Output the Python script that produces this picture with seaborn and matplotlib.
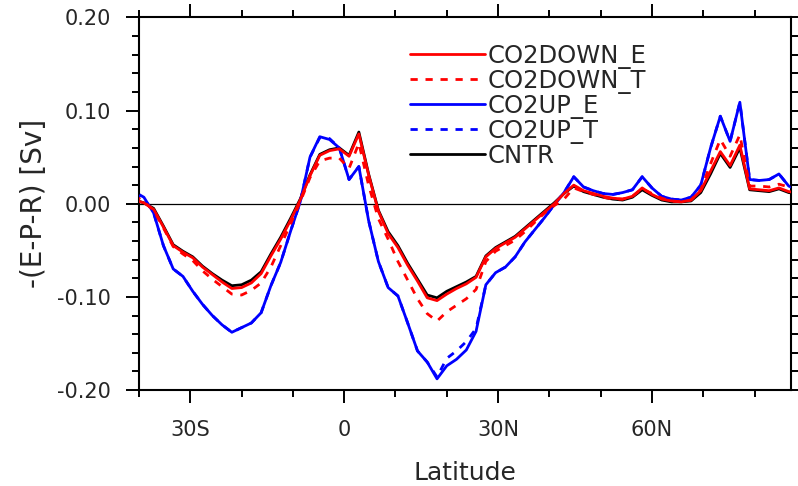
import matplotlib
matplotlib.use('Agg')
import pandas as pd
import matplotlib.pyplot as plt
import seaborn as sns
from matplotlib.ticker import MultipleLocator

# Latitude grid (Gaussian-like, ~1.9 deg)
lat = [-40.95, -39.05, -37.14, -35.24, -33.33, -31.43, -29.52, -27.62, -25.71, -23.81,
       -21.90, -20.00, -18.10, -16.19, -14.29, -12.38, -10.48, -8.57, -6.67, -4.76,
       -2.86, -0.95, 0.95, 2.86, 4.76, 6.67, 8.57, 10.48, 12.38, 14.29,
       16.19, 18.10, 20.00, 21.90, 23.81, 25.71, 27.62, 29.52, 31.43, 33.33,
       35.24, 37.14, 39.05, 40.95, 42.86, 44.76, 46.67, 48.57, 50.48, 52.38,
       54.29, 56.19, 58.10, 60.00, 61.90, 63.81, 65.71, 67.62, 69.52, 71.43,
       73.33, 75.24, 77.14, 79.05, 80.95, 82.86, 84.76, 86.67, 88.57]

co2down_e = [0.004, 0.001, -0.006, -0.025, -0.045, -0.052, -0.058, -0.068, -0.076, -0.084,
             -0.091, -0.090, -0.085, -0.075, -0.056, -0.038, -0.018, 0.004, 0.030, 0.052,
             0.057, 0.059, 0.051, 0.075, 0.031, -0.008, -0.032, -0.047, -0.066, -0.083,
             -0.101, -0.104, -0.097, -0.091, -0.086, -0.079, -0.057, -0.048, -0.042, -0.036,
             -0.027, -0.018, -0.009, 0.000, 0.011, 0.020, 0.014, 0.011, 0.008, 0.006,
             0.005, 0.008, 0.017, 0.010, 0.005, 0.003, 0.002, 0.004, 0.014, 0.035,
             0.056, 0.041, 0.063, 0.016, 0.015, 0.014, 0.017, 0.013, 0.012]

co2down_t = [0.009, 0.002, -0.007, -0.026, -0.046, -0.054, -0.061, -0.072, -0.081, -0.089,
             -0.097, -0.098, -0.093, -0.085, -0.068, -0.045, -0.022, 0.002, 0.028, 0.046,
             0.049, 0.049, 0.038, 0.065, 0.020, -0.016, -0.038, -0.062, -0.082, -0.102,
             -0.118, -0.126, -0.116, -0.109, -0.102, -0.092, -0.062, -0.051, -0.045, -0.039,
             -0.030, -0.020, -0.010, -0.002, 0.005, 0.017, 0.013, 0.010, 0.007, 0.005,
             0.005, 0.008, 0.016, 0.011, 0.006, 0.003, 0.002, 0.004, 0.015, 0.043,
             0.069, 0.051, 0.074, 0.019, 0.019, 0.018, 0.021, 0.018, 0.017]

co2up_e = [0.013, 0.007, -0.010, -0.045, -0.070, -0.078, -0.094, -0.108, -0.120, -0.130,
           -0.138, -0.133, -0.128, -0.117, -0.088, -0.063, -0.030, 0.002, 0.050, 0.072,
           0.069, 0.060, 0.026, 0.040, -0.018, -0.062, -0.090, -0.099, -0.128, -0.158,
           -0.170, -0.188, -0.174, -0.167, -0.157, -0.137, -0.087, -0.074, -0.068, -0.057,
           -0.041, -0.028, -0.015, -0.001, 0.012, 0.029, 0.018, 0.014, 0.011, 0.010,
           0.012, 0.015, 0.029, 0.017, 0.008, 0.005, 0.004, 0.007, 0.020, 0.060,
           0.094, 0.067, 0.109, 0.026, 0.025, 0.026, 0.032, 0.019, 0.015]

co2up_t = [0.011, 0.006, -0.010, -0.045, -0.070, -0.078, -0.094, -0.108, -0.120, -0.130,
           -0.138, -0.133, -0.128, -0.117, -0.088, -0.063, -0.030, 0.002, 0.050, 0.071,
           0.070, 0.060, 0.026, 0.040, -0.018, -0.062, -0.090, -0.099, -0.128, -0.158,
           -0.170, -0.186, -0.166, -0.158, -0.148, -0.134, -0.087, -0.074, -0.068, -0.057,
           -0.041, -0.028, -0.015, -0.001, 0.012, 0.029, 0.018, 0.014, 0.011, 0.010,
           0.012, 0.015, 0.029, 0.017, 0.008, 0.005, 0.004, 0.007, 0.020, 0.060,
           0.094, 0.067, 0.109, 0.026, 0.025, 0.026, 0.032, 0.019, 0.015]

cntr = [0.004, 0.001, -0.005, -0.024, -0.044, -0.051, -0.057, -0.067, -0.075, -0.082,
        -0.088, -0.087, -0.082, -0.073, -0.054, -0.036, -0.016, 0.005, 0.031, 0.053,
        0.058, 0.060, 0.052, 0.077, 0.032, -0.007, -0.030, -0.045, -0.064, -0.081,
        -0.098, -0.101, -0.094, -0.089, -0.084, -0.078, -0.056, -0.047, -0.041, -0.035,
        -0.026, -0.017, -0.008, 0.001, 0.011, 0.019, 0.013, 0.010, 0.007, 0.005,
        0.004, 0.007, 0.015, 0.009, 0.004, 0.002, 0.002, 0.003, 0.012, 0.032,
        0.054, 0.039, 0.060, 0.015, 0.014, 0.013, 0.016, 0.012, 0.011]

runs = ['CO2DOWN_E', 'CO2DOWN_T', 'CO2UP_E', 'CO2UP_T', 'CNTR']
xtick_vals = [-30, 0, 30, 60]
xtick_labels = ['30S', '0', '30N', '60N']
ytick_vals = [-0.2, -0.1, 0.0, 0.1, 0.2]
ytick_labels = ['-0.20', '-0.10', '0.00', '0.10', '0.20']

df = pd.DataFrame({'lat': lat, 'CO2DOWN_E': co2down_e, 'CO2DOWN_T': co2down_t,
                   'CO2UP_E': co2up_e, 'CO2UP_T': co2up_t, 'CNTR': cntr})

sns.set_style('ticks')
plt.rcParams['font.family'] = ['DejaVu Sans']

fig = plt.figure(figsize=(7.98, 4.86), dpi=100)
ax = fig.add_axes([0.1742, 0.1975, 0.8176, 0.7665])

dash = (0, (2.6, 2.8))
styles = {
    'CO2DOWN_E': ('#ff0000', '-', 4),
    'CO2DOWN_T': ('#ff0000', dash, 5),
    'CO2UP_E': ('#0000ff', '-', 2),
    'CO2UP_T': ('#0000ff', dash, 3),
    'CNTR': ('#000000', '-', 1),
}

# zero reference line
ax.axhline(0, color='black', lw=0.9, zorder=0.5)

handles = {}
for run in ['CNTR', 'CO2UP_E', 'CO2UP_T', 'CO2DOWN_E', 'CO2DOWN_T']:
    color, ls, z = styles[run]
    sns.lineplot(data=df, x='lat', y=run, ax=ax, color=color, linestyle=ls,
                 lw=2.0, label=run, zorder=z, legend=False)
    handles[run] = ax.lines[-1]

ax.set_xlim(-40, 87.2)
ax.set_ylim(-0.2, 0.2)
ax.set_xticks(xtick_vals, xtick_labels)
ax.set_yticks(ytick_vals, ytick_labels)
ax.xaxis.set_minor_locator(MultipleLocator(10))
ax.yaxis.set_minor_locator(MultipleLocator(0.02))
ax.tick_params(which='both', direction='out', top=True, right=True, width=1.4, color='black')
ax.tick_params(which='major', length=9.5)
ax.tick_params(which='minor', length=5)
ax.tick_params(axis='x', labelsize=15, pad=12)
ax.tick_params(axis='y', labelsize=15, pad=11)
for s in ax.spines.values():
    s.set_linewidth(1.5)
    s.set_color('black')

ax.set_xlabel('Latitude', fontsize=18, labelpad=15)
ax.set_ylabel('-(E-P-R) [Sv]', fontsize=20, labelpad=6)

ax.legend([handles[r] for r in runs], runs, loc='upper left',
          bbox_to_anchor=(0.415, 0.93), frameon=False, fontsize=17.5,
          handlelength=3.1, handletextpad=0.1, labelspacing=0.0,
          borderpad=0, borderaxespad=0)

fig.savefig('out.png', dpi=100)
